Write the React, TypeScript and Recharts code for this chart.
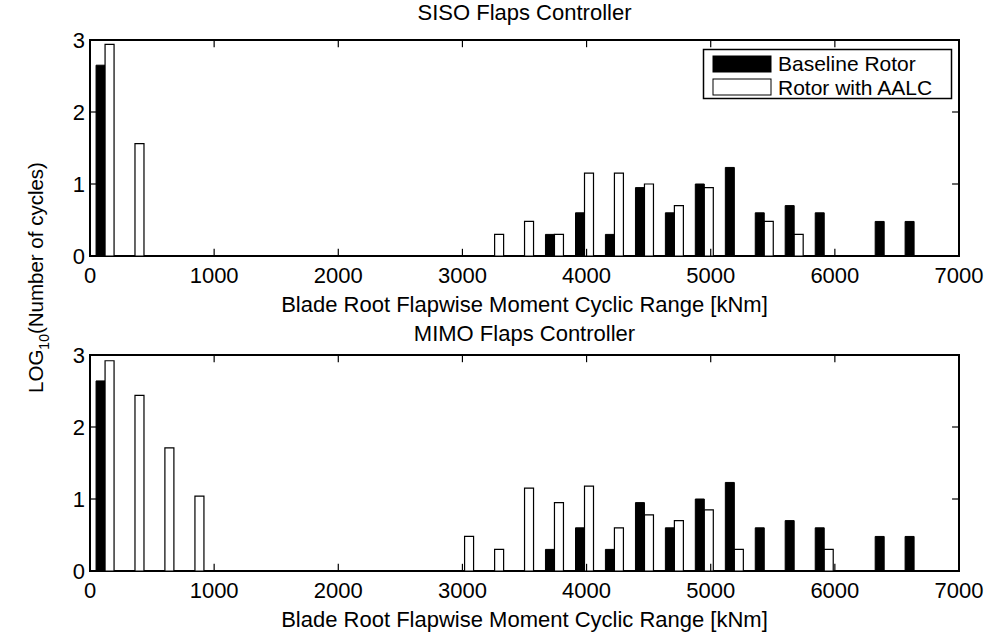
import { BarChart, Bar, XAxis, YAxis, ReferenceArea, ReferenceLine, Legend } from 'recharts';

// bin centres of the cyclic range histogram [kNm]
const binCenters = [
  121, 362, 603, 845, 1086, 1328, 1569, 1810, 2052, 2293, 2534, 2776, 3017, 3259, 3500,
  3741, 3983, 4224, 4466, 4707, 4948, 5190, 5431, 5672, 5914, 6155, 6397, 6638, 6879,
];

// log10(number of cycles) per bin
const baselineSiso = [
  2.65, 0, 0, 0, 0, 0, 0, 0, 0, 0, 0, 0, 0, 0, 0,
  0.3, 0.6, 0.3, 0.95, 0.6, 1.0, 1.23, 0.6, 0.7, 0.6, 0, 0.48, 0.48, 0,
];
const aalcSiso = [
  2.94, 1.56, 0, 0, 0, 0, 0, 0, 0, 0, 0, 0, 0, 0.3, 0.48,
  0.3, 1.15, 1.15, 1.0, 0.7, 0.95, 0, 0.48, 0.3, 0, 0, 0, 0, 0,
];
const baselineMimo = [
  2.64, 0, 0, 0, 0, 0, 0, 0, 0, 0, 0, 0, 0, 0, 0,
  0.3, 0.6, 0.3, 0.95, 0.6, 1.0, 1.23, 0.6, 0.7, 0.6, 0, 0.48, 0.48, 0,
];
const aalcMimo = [
  2.92, 2.44, 1.71, 1.04, 0, 0, 0, 0, 0, 0, 0, 0, 0.48, 0.3, 1.15,
  0.95, 1.18, 0.6, 0.78, 0.7, 0.85, 0.3, 0, 0, 0.3, 0, 0, 0, 0,
];

const xTicks = [0, 1000, 2000, 3000, 4000, 5000, 6000, 7000];
const yTicks = [0, 1, 2, 3];
const X_LABEL = 'Blade Root Flapwise Moment Cyclic Range [kNm]';
const FONT = '"Liberation Sans", Arial, Helvetica, sans-serif';

const WIDTH = 989;
const FS = 22;
const TICK_X = 56; // inward tick length in x units (~7px)
const TICK_Y = 0.1; // inward tick length in y units (~7px)

function buildRows(base: number[], aalc: number[]) {
  return binCenters.map((x, i) => ({ x, baseline: base[i], aalc: aalc[i] }));
}

function LegendBox() {
  return (
    <svg width={250} height={52} style={{ overflow: 'visible' }}>
      <rect x={0.5} y={0.5} width={248} height={49} fill="#fff" stroke="#000" strokeWidth={1.5} />
      <rect x={10} y={7} width={58} height={16} fill="#000" stroke="#000" />
      <text x={75} y={22} fontSize={21} fontFamily={FONT} fill="#000">Baseline Rotor</text>
      <rect x={10} y={30} width={58} height={16} fill="#fff" stroke="#000" />
      <text x={75} y={46} fontSize={21} fontFamily={FONT} fill="#000">Rotor with AALC</text>
    </svg>
  );
}

interface PanelProps {
  rows: { x: number; baseline: number; aalc: number }[];
  top: number;
  height: number;
  marginTop: number;
  marginBottom: number;
  showLegend?: boolean;
}

function Panel({ rows, top, height, marginTop, marginBottom, showLegend }: PanelProps) {
  return (
    <div style={{ position: 'absolute', left: 0, top }}>
      <BarChart
        width={WIDTH}
        height={height}
        data={rows}
        margin={{ top: marginTop, right: 30, bottom: marginBottom, left: 60 }}
        barGap={0}
      >
        <XAxis
          type="number"
          dataKey="x"
          domain={[0, 7000]}
          ticks={xTicks}
          allowDataOverflow
          tickLine={false}
          axisLine={false}
          tickSize={0}
          tickMargin={11}
          height={56}
          tick={{ fill: '#000', fontSize: FS, fontFamily: FONT }}
          label={{ value: X_LABEL, position: 'insideBottom', offset: 0, fill: '#000', fontSize: FS, fontFamily: FONT }}
        />
        <YAxis
          type="number"
          domain={[0, 3]}
          ticks={yTicks}
          allowDataOverflow
          tickLine={false}
          axisLine={false}
          tickSize={0}
          tickMargin={5}
          width={30}
          tick={{ fill: '#000', fontSize: FS, fontFamily: FONT }}
        />
        <Bar dataKey="baseline" name="Baseline Rotor" barSize={9} fill="#000" stroke="#000" strokeWidth={1} isAnimationActive={false} />
        <Bar dataKey="aalc" name="Rotor with AALC" barSize={9} fill="#fff" stroke="#000" strokeWidth={1.2} isAnimationActive={false} />

        {/* axes box with inward ticks, matlab style */}
        <ReferenceArea x1={0} x2={7000} y1={0} y2={3} fill="none" fillOpacity={0} stroke="#000" strokeWidth={2} ifOverflow="visible" />
        {xTicks.slice(1, -1).map((t) => (
          <ReferenceLine key={`xb-${t}`} segment={[{ x: t, y: 0 }, { x: t, y: TICK_Y }]} stroke="#000" strokeWidth={1.2} />
        ))}
        {xTicks.slice(1, -1).map((t) => (
          <ReferenceLine key={`xt-${t}`} segment={[{ x: t, y: 3 }, { x: t, y: 3 - TICK_Y }]} stroke="#000" strokeWidth={1.2} />
        ))}
        {yTicks.slice(1, -1).map((t) => (
          <ReferenceLine key={`yl-${t}`} segment={[{ x: 0, y: t }, { x: TICK_X, y: t }]} stroke="#000" strokeWidth={1.2} />
        ))}
        {yTicks.slice(1, -1).map((t) => (
          <ReferenceLine key={`yr-${t}`} segment={[{ x: 7000, y: t }, { x: 7000 - TICK_X, y: t }]} stroke="#000" strokeWidth={1.2} />
        ))}

        {showLegend && (
          <Legend
            layout="vertical"
            align="center"
            verticalAlign="middle"
            content={() => <LegendBox />}
            wrapperStyle={{ position: 'absolute', left: 703, top: 49, width: 250, height: 52 }}
          />
        )}
      </BarChart>
    </div>
  );
}

export default function App() {
  const sisoRows = buildRows(baselineSiso, aalcSiso);
  const mimoRows = buildRows(baselineMimo, aalcMimo);

  return (
    <div
      style={{
        position: 'absolute',
        left: 0,
        top: 0,
        width: WIDTH,
        height: 637,
        background: '#fff',
        fontFamily: FONT,
      }}
    >
      <Panel rows={sisoRows} top={0} height={318} marginTop={40} marginBottom={6} showLegend />
      <Panel rows={mimoRows} top={318} height={319} marginTop={37} marginBottom={10} />

      {/* titles and shared y label */}
      <svg
        width={WIDTH}
        height={637}
        style={{ position: 'absolute', left: 0, top: 0, pointerEvents: 'none' }}
        fontFamily={FONT}
      >
        <text x={524.5} y={20} textAnchor="middle" fontSize={FS} fill="#000">SISO Flaps Controller</text>
        <text x={524.5} y={341} textAnchor="middle" fontSize={FS} fill="#000">MIMO Flaps Controller</text>
        <text transform="translate(43,277.5) rotate(-90)" textAnchor="middle" fontSize={20.5} fill="#000">
          LOG<tspan fontSize={14} dy={6}>10</tspan>
          <tspan dy={-6}>(Number of cycles)</tspan>
        </text>
      </svg>
    </div>
  );
}
